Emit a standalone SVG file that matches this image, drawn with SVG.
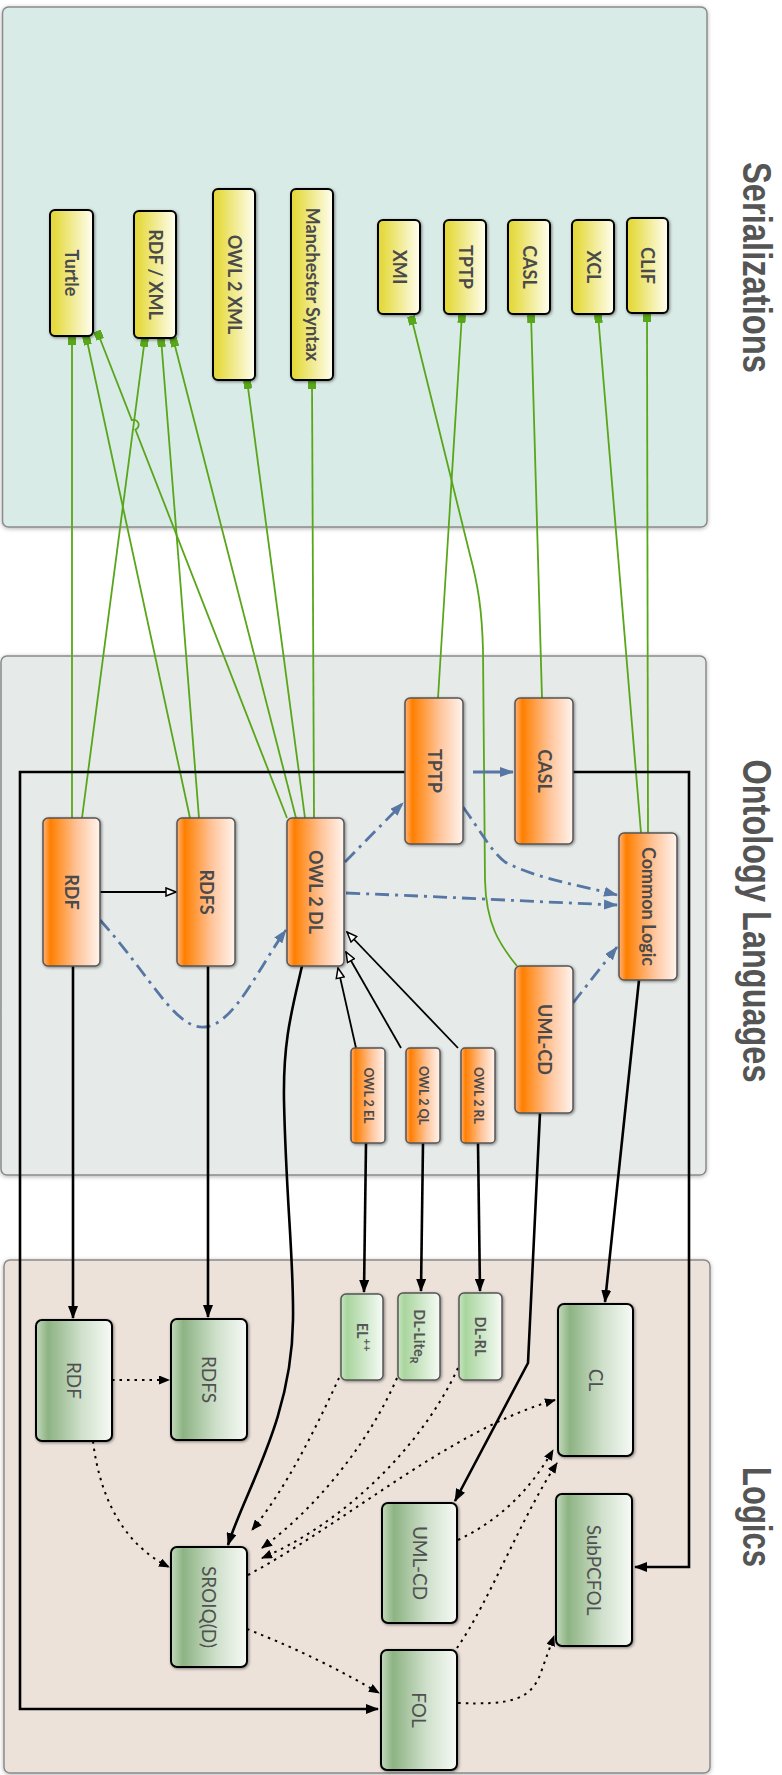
<svg xmlns="http://www.w3.org/2000/svg" width="782" height="1775" viewBox="0 0 782 1775">
<defs>
<linearGradient id="gY" x1="0" y1="0" x2="1" y2="0"><stop offset="0" stop-color="#e2d63a"/><stop offset="0.15" stop-color="#e6dc48"/><stop offset="1" stop-color="#fffef2"/></linearGradient>
<linearGradient id="gO" x1="0" y1="0" x2="1" y2="0"><stop offset="0" stop-color="#ffb27a"/><stop offset="0.13" stop-color="#ff7f00"/><stop offset="0.6" stop-color="#ffc49a"/><stop offset="1" stop-color="#fff4ee"/></linearGradient>
<linearGradient id="gG" x1="0" y1="0" x2="1" y2="0"><stop offset="0" stop-color="#c3d9bc"/><stop offset="0.16" stop-color="#8db383"/><stop offset="0.6" stop-color="#cfe0cb"/><stop offset="1" stop-color="#f7faf6"/></linearGradient>
<linearGradient id="gL" x1="0" y1="0" x2="1" y2="0"><stop offset="0" stop-color="#c8e6c0"/><stop offset="0.15" stop-color="#a9d59e"/><stop offset="1" stop-color="#f6fbf5"/></linearGradient>
<filter id="sh" x="-20%" y="-20%" width="140%" height="140%"><feDropShadow dx="1" dy="1" stdDeviation="1.5" flood-color="#000" flood-opacity="0.45"/></filter>
<filter id="psh" x="-5%" y="-5%" width="110%" height="110%"><feDropShadow dx="0" dy="1" stdDeviation="2" flood-color="#000" flood-opacity="0.3"/></filter>
<marker id="sq" viewBox="0 0 9 8" refX="9" refY="4" markerWidth="9" markerHeight="8" markerUnits="userSpaceOnUse" orient="auto"><rect x="0" y="0" width="9" height="8" fill="#58a61a"/></marker>
<marker id="ab" viewBox="0 0 13 10" refX="12" refY="5" markerWidth="13" markerHeight="10" markerUnits="userSpaceOnUse" orient="auto"><path d="M0,0 L13,5 L0,10 z" fill="#000"/></marker>
<marker id="ao" viewBox="0 0 12 10" refX="11" refY="5" markerWidth="12" markerHeight="10" markerUnits="userSpaceOnUse" orient="auto"><path d="M1,1 L11,5 L1,9 z" fill="#fff" stroke="#000" stroke-width="1.5"/></marker>
<marker id="abl" viewBox="0 0 14 10" refX="13" refY="5" markerWidth="14" markerHeight="10" markerUnits="userSpaceOnUse" orient="auto"><path d="M0,0 L14,5 L0,10 z" fill="#5677a4"/></marker>
<marker id="ad" viewBox="0 0 11 9" refX="10" refY="4.5" markerWidth="11" markerHeight="9" markerUnits="userSpaceOnUse" orient="auto"><path d="M0,0 L11,4.5 L0,9 z" fill="#000"/></marker>
</defs>
<style>
.panel{stroke:#8a8a8a;stroke-width:1.5;filter:url(#psh)}
.title{font-family:"Liberation Sans",Arial,sans-serif;font-weight:bold;font-size:40px;fill:#555}
.ny{fill:url(#gY);stroke:#000;stroke-width:2;filter:url(#sh)}
.no{fill:url(#gO);stroke:#555;stroke-width:1.5;filter:url(#sh)}
.ng{fill:url(#gG);stroke:#000;stroke-width:2;filter:url(#sh)}
.nl{fill:url(#gL);stroke:#555;stroke-width:1.5;filter:url(#sh)}
.t{font-family:Lato,"Open Sans",sans-serif;fill:#4a4a4a;text-anchor:middle}
.tb{font-weight:bold;font-size:18px}
.ts{font-weight:bold;font-size:12.5px}
.tg{font-size:19px;fill:#505050}
.tgs{font-size:14.5px;fill:#555;font-weight:bold}
.gr{fill:none;stroke:#58a61a;stroke-width:1.8;marker-end:url(#sq)}
.bl{fill:none;stroke:#5677a4;stroke-width:2.8;stroke-dasharray:14 6 3 6;marker-end:url(#abl)}
.op{fill:none;stroke:#000;stroke-width:1.8;marker-end:url(#ao)}
.bk{fill:none;stroke:#000;stroke-width:2.6;marker-end:url(#ab)}
.dt{fill:none;stroke:#000;stroke-width:2;stroke-dasharray:2.5 5;marker-end:url(#ad)}
</style>
<g id="panels">
<rect class="panel" x="2.5" y="7" width="704.5" height="520" rx="6" fill="#d9ebe6"/>
<rect class="panel" x="1" y="656" width="705" height="519" rx="6" fill="#e6eae9"/>
<rect class="panel" x="4" y="1260" width="706" height="513" rx="6" fill="#ece2da"/>
<text class="title" transform="translate(743,267.5) rotate(90)" text-anchor="middle" textLength="211" lengthAdjust="spacingAndGlyphs">Serializations</text>
<text class="title" transform="translate(743,921) rotate(90)" text-anchor="middle" textLength="323" lengthAdjust="spacingAndGlyphs">Ontology Languages</text>
<text class="title" transform="translate(743,1517) rotate(90)" text-anchor="middle" textLength="100" lengthAdjust="spacingAndGlyphs">Logics</text>
</g>
<g id="connectors">
<path class="gr" d="M72,818 L72,336"/>
<path class="gr" d="M82,818 L145,338"/>
<path class="gr" d="M190,818 L86,336"/>
<path class="gr" d="M199,818 L161,338"/>
<path class="gr" d="M287,818 L135.4,429.5 A5,5 0 0 0 131.8,420.1 L97,331"/>
<path class="gr" d="M296,818 L173,338"/>
<path class="gr" d="M305,818 L247,380"/>
<path class="gr" d="M314,818 L312,380"/>
<path class="gr" d="M438,698 L462,314"/>
<path class="gr" d="M542,698 L531,314"/>
<path class="gr" d="M641,833 L598,314"/>
<path class="gr" d="M648,833 L647,313"/>
<path class="gr" d="M517,966 C500,945 486,925 485,880 L483,650 C482,610 478,585 470,555 L411,316"/>
<path class="bk" d="M405,772 L20,772 L20,1709 L378,1709"/>
<path class="bk" d="M573,772 L689,772 L689,1567 L635,1567"/>
<path class="bl" d="M100,920 C150,975 175,1030 205,1027 C235,1024 260,965 286,930"/>
<path class="bl" d="M345,862 L403,803"/>
<path class="bl" style="stroke-dasharray:none" d="M473,772 L513,772"/>
<path class="bl" d="M463,807 C480,830 490,850 505,862 C540,880 580,885 617,895"/>
<path class="bl" d="M346,893 C450,897 540,902 617,905"/>
<path class="bl" d="M573,1003 L617,947"/>
<path class="op" d="M100,892 L176,892"/>
<path class="op" d="M356,1048 L338,968"/>
<path class="op" d="M401,1048 L346,952"/>
<path class="op" d="M458,1048 L347,932"/>
<path class="bk" d="M73,966 L73,1318"/>
<path class="bk" d="M208,966 L208,1317"/>
<path class="bk" d="M302,966 C292,1010 283,1040 284,1100 C286,1200 294,1260 293,1320 C292,1420 245,1490 228,1545"/>
<path class="bk" d="M366,1143 L364,1292"/>
<path class="bk" d="M423,1143 L421,1291"/>
<path class="bk" d="M478,1143 L480,1291"/>
<path class="bk" d="M540,1113 L528,1363 L455,1501"/>
<path class="bk" d="M639,980 L605,1302"/>
<path class="dt" d="M112,1380 L169,1380"/>
<path class="dt" d="M93,1441 C100,1500 125,1545 169,1567"/>
<path class="dt" d="M339,1378 C315,1430 285,1490 252,1530"/>
<path class="dt" d="M397,1378 C370,1440 320,1505 262,1548"/>
<path class="dt" d="M458,1368 C420,1450 340,1525 262,1558"/>
<path class="dt" d="M248,1575 C350,1520 450,1430 555,1400"/>
<path class="dt" d="M247,1629 C300,1650 340,1670 379,1693"/>
<path class="dt" d="M458,1540 C500,1520 530,1490 553,1450"/>
<path class="dt" d="M457,1648 C490,1600 520,1520 557,1463"/>
<path class="dt" d="M458,1703 C510,1705 530,1700 540,1675 L554,1636"/>
</g>
<g id="n-turtle"><rect class="ny" x="50" y="210" width="43" height="126" rx="5"/><text class="t tb" transform="translate(71.5,273) rotate(90)" dy="0.35em">Turtle</text></g>
<g id="n-rdfxml"><rect class="ny" x="134" y="211" width="42" height="127" rx="5"/><text class="t tb" transform="translate(155,274.5) rotate(90)" dy="0.35em">RDF / XML</text></g>
<g id="n-owl2xml"><rect class="ny" x="213" y="189" width="42" height="191" rx="5"/><text class="t tb" transform="translate(234,284.5) rotate(90)" dy="0.35em">OWL 2 XML</text></g>
<g id="n-manchester"><rect class="ny" x="291" y="189" width="42" height="191" rx="5"/><text class="t tb" transform="translate(312,284.5) rotate(90)" dy="0.35em">Manchester Syntax</text></g>
<g id="n-xmi"><rect class="ny" x="378" y="220" width="42" height="94" rx="5"/><text class="t tb" transform="translate(399,267) rotate(90)" dy="0.35em">XMI</text></g>
<g id="n-tptp-s"><rect class="ny" x="444" y="220" width="42" height="94" rx="5"/><text class="t tb" transform="translate(465,267) rotate(90)" dy="0.35em">TPTP</text></g>
<g id="n-casl-s"><rect class="ny" x="508" y="220" width="42" height="94" rx="5"/><text class="t tb" transform="translate(529,267) rotate(90)" dy="0.35em">CASL</text></g>
<g id="n-xcl"><rect class="ny" x="572" y="220" width="42" height="94" rx="5"/><text class="t tb" transform="translate(593,267) rotate(90)" dy="0.35em">XCL</text></g>
<g id="n-clif"><rect class="ny" x="627" y="218" width="41" height="95" rx="5"/><text class="t tb" transform="translate(647.5,265.5) rotate(90)" dy="0.35em">CLIF</text></g>
<g id="n-rdf-o"><rect class="no" x="43" y="818" width="57" height="148" rx="5"/><text class="t tb" transform="translate(71.5,892) rotate(90)" dy="0.35em">RDF</text></g>
<g id="n-rdfs-o"><rect class="no" x="177" y="818" width="58" height="148" rx="5"/><text class="t tb" transform="translate(206,892) rotate(90)" dy="0.35em">RDFS</text></g>
<g id="n-owl2dl"><rect class="no" x="287" y="818" width="57" height="148" rx="5"/><text class="t tb" transform="translate(315.5,892) rotate(90)" dy="0.35em">OWL 2 DL</text></g>
<g id="n-tptp-o"><rect class="no" x="405" y="698" width="58" height="146" rx="5"/><text class="t tb" transform="translate(434,771) rotate(90)" dy="0.35em">TPTP</text></g>
<g id="n-casl-o"><rect class="no" x="515" y="698" width="58" height="146" rx="5"/><text class="t tb" transform="translate(544,771) rotate(90)" dy="0.35em">CASL</text></g>
<g id="n-commonlogic"><rect class="no" x="619" y="833" width="58" height="147" rx="5"/><text class="t tb" transform="translate(648,906.5) rotate(90)" dy="0.35em">Common Logic</text></g>
<g id="n-umlcd-o"><rect class="no" x="515" y="966" width="58" height="147" rx="5"/><text class="t tb" transform="translate(544,1039.5) rotate(90)" dy="0.35em">UML-CD</text></g>
<g id="n-owl2el"><rect class="no" x="351" y="1048" width="34" height="95" rx="4"/><text class="t ts" transform="translate(368,1095.5) rotate(90)" dy="0.35em">OWL 2 EL</text></g>
<g id="n-owl2ql"><rect class="no" x="406" y="1048" width="34" height="95" rx="4"/><text class="t ts" transform="translate(423,1095.5) rotate(90)" dy="0.35em">OWL 2 QL</text></g>
<g id="n-owl2rl"><rect class="no" x="461" y="1048" width="34" height="95" rx="4"/><text class="t ts" transform="translate(478,1095.5) rotate(90)" dy="0.35em">OWL 2 RL</text></g>
<g id="n-rdf-l"><rect class="ng" x="36" y="1320" width="76" height="121" rx="6"/><text class="t tg" transform="translate(74,1380.5) rotate(90)" dy="0.35em">RDF</text></g>
<g id="n-rdfs-l"><rect class="ng" x="171" y="1319" width="76" height="121" rx="6"/><text class="t tg" transform="translate(209,1379.5) rotate(90)" dy="0.35em">RDFS</text></g>
<g id="n-elpp"><rect class="nl" x="341" y="1294" width="42" height="86" rx="5"/><text class="t tgs" transform="translate(362,1337) rotate(90)" dy="0.35em">EL<tspan font-size="11" dy="-6">++</tspan></text></g>
<g id="n-dllite"><rect class="nl" x="398" y="1293" width="42" height="87" rx="5"/><text class="t tgs" transform="translate(419,1336.5) rotate(90)" dy="0.35em">DL-Lite<tspan font-size="11" dy="4">R</tspan></text></g>
<g id="n-dlrl"><rect class="nl" x="459" y="1293" width="43" height="87" rx="5"/><text class="t tgs" transform="translate(480.5,1336.5) rotate(90)" dy="0.35em">DL-RL</text></g>
<g id="n-cl"><rect class="ng" x="558" y="1304" width="75" height="152" rx="6"/><text class="t tg" transform="translate(595.5,1380) rotate(90)" dy="0.35em">CL</text></g>
<g id="n-umlcd-l"><rect class="ng" x="382" y="1503" width="75" height="120" rx="6"/><text class="t tg" transform="translate(419.5,1563) rotate(90)" dy="0.35em">UML-CD</text></g>
<g id="n-subpcfol"><rect class="ng" x="556" y="1494" width="76" height="152" rx="6"/><text class="t tg" transform="translate(594,1570) rotate(90)" dy="0.35em">SubPCFOL</text></g>
<g id="n-sroiq"><rect class="ng" x="171" y="1547" width="76" height="120" rx="6"/><text class="t tg" transform="translate(209,1607) rotate(90)" dy="0.35em">SROIQ(D)</text></g>
<g id="n-fol"><rect class="ng" x="381" y="1650" width="76" height="120" rx="6"/><text class="t tg" transform="translate(419,1710) rotate(90)" dy="0.35em">FOL</text></g>
</svg>
